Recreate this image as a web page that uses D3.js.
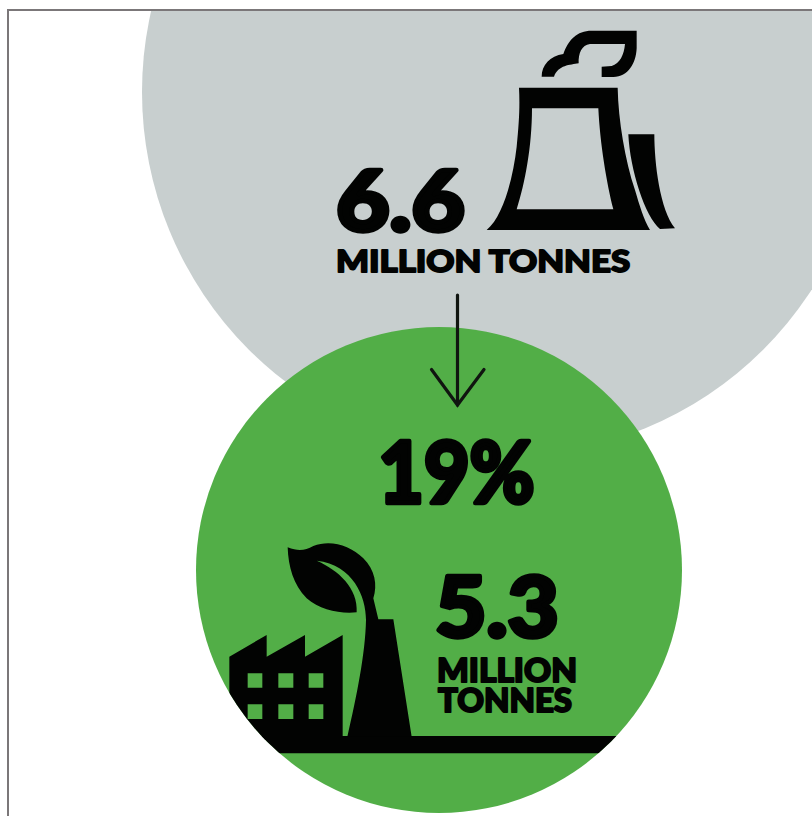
<!DOCTYPE html>
<html>
<head>
<meta charset="utf-8">
<script src="https://cdn.jsdelivr.net/npm/d3@7"></script>
<style>
  html, body { margin: 0; padding: 0; background: #fff; }
  svg { display: block; }
  text { font-family: Lato, "Noto Sans", sans-serif; font-weight: 900; }
</style>
</head>
<body>
<script>
// Emissions before and after, in million tonnes
const stages = ["before", "after"];
const emissions = [6.6, 5.3];
const unitLine = "MILLION TONNES";
const unitLines = ["MILLION", "TONNES"];
const reductionLabel = "19%";

const width = 812, height = 816;
const colours = { before: "#c8cfcf", after: "#52ae47", ink: "#020302", frame: "#7b7779" };

const svg = d3.select("body").append("svg").attr("width", width).attr("height", height);

const frameX = 8, frameY = 10;
const defs = svg.append("defs");
defs.append("clipPath").attr("id", "panel").append("rect")
  .attr("x", frameX).attr("y", frameY).attr("width", width).attr("height", height);

// Bubble size and centre for each stage
const radius = d3.scaleLinear().domain(d3.extent(emissions)).range([243, 364]);
const centreX = d3.scaleOrdinal().domain(stages).range([506, 439]);
const centreY = d3.scaleOrdinal().domain(stages).range([92, 570]);

defs.append("clipPath").attr("id", "after-disc").append("circle")
  .attr("cx", centreX("after")).attr("cy", centreY("after")).attr("r", radius(emissions[1]));

const panel = svg.append("g").attr("clip-path", "url(#panel)");
panel.selectAll("circle.stage")
  .data(stages.map((s, i) => ({ stage: s, value: emissions[i] })))
  .join("circle")
  .attr("class", "stage")
  .attr("cx", d => centreX(d.stage))
  .attr("cy", d => centreY(d.stage))
  .attr("r", d => radius(d.value))
  .attr("fill", d => colours[d.stage]);

// Panel border: left and top rules only
svg.append("path")
  .attr("d", `M${frameX},${height}V${frameY}H${width}`)
  .attr("fill", "none").attr("stroke", colours.frame).attr("stroke-width", 2);

// Cooling tower pictogram, drawn on a 3x grid
const tower = svg.append("g").attr("transform", "translate(320,20) scale(0.33333)").attr("fill", colours.ink);
tower.append("path").attr("fill-rule", "evenodd").attr("d",
  "M597,203 L893,203 C895,300 915,420 945,510 C958,555 972,600 990,630 L500,630 " +
  "C550,590 580,470 590,380 C597,310 600,260 597,203 Z " +
  "M636,265 L835,265 C840,370 860,490 880,568 L590,568 C615,490 636,380 636,265 Z");
tower.append("path").attr("d",
  "M925,343 L1003,343 C1003,430 1020,570 1065,625 L1020,627 C975,590 930,450 925,343 Z");
tower.append("path").attr("d",
  "M665,170 C665,135 690,108 730,102 C745,60 770,32 815,32 L950,32 L950,85 " +
  "C948,130 925,170 880,171 L845,171 L845,140 L875,138 C900,130 912,105 915,72 " +
  "L810,72 C785,75 775,100 776,130 C750,135 715,135 702,170 Z");

// Factory and sprouting chimney pictogram, clipped by the green disc
const plant = svg.append("g").attr("clip-path", "url(#after-disc)")
  .append("g").attr("transform", "translate(210,520) scale(0.33333)").attr("fill", colours.ink);
plant.append("path").attr("fill-rule", "evenodd").attr("d",
  "M58,410 L170,345 L170,410 L285,345 L285,410 L398,345 L398,660 L58,660 Z " +
  "M113,460 H157 V503 H113 Z M205,460 H250 V503 H205 Z M296,460 H340 V503 H296 Z " +
  "M113,553 H157 V597 H113 Z M205,553 H250 V597 H205 Z M296,553 H340 V597 H296 Z");
plant.append("path").attr("d",
  "M-60,648 H1300 V700 H-60 Z");
plant.append("path").attr("d",
  "M233,82 C265,95 285,92 310,78 C360,58 420,75 460,115 C495,150 503,195 490,235 " +
  "L505,298 L550,298 L605,650 L412,650 C440,530 466,400 468,300 " +
  "C468,230 430,135 320,122 C385,150 445,205 440,277 " +
  "C390,282 330,270 290,235 C250,195 235,140 233,82 Z");

// Arrow from the first figure to the second
const arrow = svg.append("g").attr("fill", "none").attr("stroke", "#101510")
  .attr("stroke-width", 3.2).attr("stroke-linecap", "round").attr("stroke-linejoin", "miter");
arrow.append("line").attr("x1", 457.5).attr("x2", 457.5).attr("y1", 295).attr("y2", 405);
arrow.append("polyline").attr("points", "431.5,369.5 457.5,405 484,369.5");

// Text set to a fixed box: left edge, right edge, baseline, font size, added weight
function label(str, x0, x1, baseline, size, bold) {
  svg.append("text")
    .attr("x", x0 + bold / 2).attr("y", baseline - bold / 2)
    .attr("font-size", size)
    .attr("textLength", x1 - x0 - bold)
    .attr("lengthAdjust", "spacingAndGlyphs")
    .attr("fill", colours.ink)
    .attr("stroke", colours.ink)
    .attr("stroke-width", bold)
    .attr("stroke-linejoin", "round")
    .text(str);
}

label(emissions[0].toFixed(1), 334, 467, 233, 83, 4.5);
label(unitLine, 335, 631, 273, 31, 1.8);
label(reductionLabel, 376, 537, 505, 86, 4.5);
label(emissions[1].toFixed(1), 433, 561, 639, 84, 4.5);
label(unitLines[0], 436, 578, 683, 33, 2);
label(unitLines[1], 437, 573, 713, 33, 2);
</script>
</body>
</html>
